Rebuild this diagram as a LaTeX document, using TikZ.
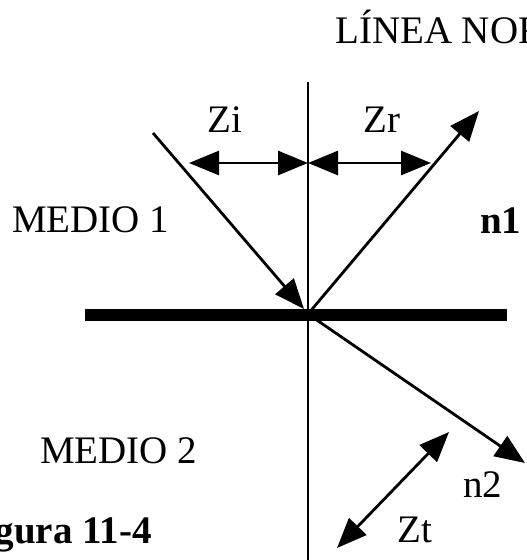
\documentclass[tikz,border=0pt]{standalone}
\usepackage{fontspec}
\setmainfont{Liberation Serif}
\usepackage{tikz}
\usetikzlibrary{arrows.meta,positioning,calc}

\begin{document}
\begin{tikzpicture}[
  x=1pt, y=-1pt,
  lbl/.style={anchor=base west, inner sep=0pt, font=\fontsize{39}{41}\selectfont},
  ray/.style={line width=2.8pt, -{Triangle[length=30pt,width=24pt]}},
  darr/.style={line width=2.8pt, {Triangle[length=30pt,width=24pt]}-{Triangle[length=30pt,width=24pt]}}
]
  \useasboundingbox (0,0) rectangle (527,560);
  \clip (0,0) rectangle (527,560);

  % interface and normal
  \coordinate (o)    at (308, 314);
  \coordinate (ntop) at (308, 82);
  \coordinate (nbot) at (308, 570);
  \coordinate (sl)   at (85, 315);
  \coordinate (sr)   at (507, 315);
  \draw[line width=2.8pt] (ntop) -- (nbot);
  \draw[line width=12pt] (sl) -- (sr);

  % rays
  \coordinate (inc)  at (153, 133);
  \coordinate (hit)  at (304, 309);
  \coordinate (refl) at (479, 111);
  \coordinate (tra)  at (525, 463);
  \draw[ray] (inc) -- (hit);
  \draw[ray] (o) -- (refl);
  \draw[ray] (o) -- (tra);

  % widths
  \coordinate (zil) at (189, 163);
  \coordinate (zim) at (308, 163);
  \coordinate (zrr) at (431, 163);
  \coordinate (ztb) at (337, 548);
  \coordinate (ztt) at (449, 432);
  \draw[darr] (zil) -- (zim);
  \draw[darr] (zim) -- (zrr);
  \draw[darr] (ztb) -- (ztt);

  % labels
  \node[lbl] (normal) at (335, 43)  {LÍNEA NORMAL};
  \node[lbl] (m1)     at (12, 232)  {MEDIO 1};
  \node[lbl] (m2)     at (40, 463)  {MEDIO 2};
  \node[lbl] (zi)     at (207, 132) {Zi};
  \node[lbl] (zr)     at (363, 132) {Zr};
  \node[lbl] (zt)     at (397, 542) {Zt};
  \node[lbl, font=\fontsize{39}{41}\selectfont\bfseries] (n1) at (480, 233) {n1};
  \node[lbl] (n2)     at (463, 497) {n2};
  \node[lbl, anchor=base east, font=\fontsize{39}{41}\selectfont\bfseries] (fig) at (152, 543) {Figura 11-4};
\end{tikzpicture}
\end{document}
